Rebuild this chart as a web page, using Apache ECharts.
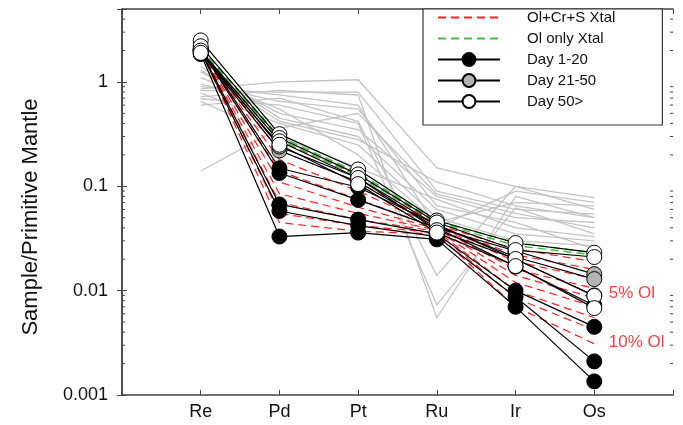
<!DOCTYPE html>
<html>
<head>
<meta charset="utf-8">
<script src="https://cdn.jsdelivr.net/npm/echarts@6/dist/echarts.min.js"></script>
<style>
  html, body { margin: 0; padding: 0; background: #fff; }
  #chart { width: 683px; height: 425px; }
</style>
</head>
<body>
<div id="chart"></div>
<script>
  // element order along the x axis
  const elements = ['Re', 'Pd', 'Pt', 'Ru', 'Ir', 'Os']
  const yTicks = [0.001, 0.01, 0.1, 1]

  // samples, Re..Os normalised to primitive mantle
  const day1to20 = [
    [1.85, 0.033, 0.036, 0.031, 0.0070, 0.00135],
    [1.95, 0.058, 0.042, 0.033, 0.0087, 0.0021],
    [2.00, 0.067, 0.048, 0.035, 0.0100, 0.0045],
    [2.05, 0.134, 0.074, 0.040, 0.0170, 0.0072],
    [2.10, 0.149, 0.098, 0.043, 0.0200, 0.0090]
  ]
  const day21to50 = [
    [1.90, 0.220, 0.110, 0.040, 0.0240, 0.0144],
    [2.00, 0.240, 0.120, 0.042, 0.0210, 0.0129]
  ]
  const day50plus = [
    [2.50, 0.316, 0.145, 0.047, 0.0286, 0.0231],
    [2.20, 0.290, 0.130, 0.045, 0.0245, 0.0210],
    [2.00, 0.270, 0.120, 0.038, 0.0201, 0.0089],
    [1.90, 0.250, 0.105, 0.036, 0.0172, 0.0068]
  ]
  // crystallisation models
  const olCrS = [
    [2.0, 0.27, 0.130, 0.043, 0.025, 0.019],
    [2.0, 0.22, 0.110, 0.042, 0.022, 0.016],
    [2.0, 0.18, 0.090, 0.041, 0.019, 0.013],
    [2.0, 0.14, 0.075, 0.040, 0.016, 0.0105],
    [2.0, 0.11, 0.063, 0.039, 0.014, 0.0085],
    [2.0, 0.085, 0.055, 0.038, 0.012, 0.0070],
    [2.0, 0.070, 0.048, 0.037, 0.010, 0.0055],
    [2.0, 0.055, 0.042, 0.036, 0.0085, 0.0042],
    [2.0, 0.045, 0.037, 0.035, 0.0070, 0.0031]
  ]
  const olOnly = [
    [2.1, 0.30, 0.135, 0.046, 0.029, 0.023],
    [2.1, 0.28, 0.125, 0.045, 0.027, 0.022]
  ]
  // literature samples (grey)
  const others = [
    [1.40, 0.45, 0.30, 0.060, 0.035, 0.030],
    [1.25, 0.50, 0.35, 0.080, 0.050, 0.045],
    [0.86, 1.00, 1.05, 0.150, 0.100, 0.078],
    [0.83, 0.80, 0.80, 0.090, 0.060, 0.054],
    [0.72, 0.83, 0.75, 0.0055, 0.080, 0.050],
    [0.69, 0.60, 0.40, 0.0073, 0.062, 0.035],
    [0.60, 0.70, 0.42, 0.0140, 0.100, 0.060],
    [0.14, 0.36, 0.50, 0.084, 0.055, 0.040],
    [0.95, 0.65, 0.55, 0.065, 0.045, 0.025],
    [0.78, 0.40, 0.25, 0.050, 0.030, 0.027],
    [1.10, 0.55, 0.20, 0.045, 0.070, 0.065],
    [0.65, 0.30, 0.15, 0.075, 0.040, 0.033],
    [0.90, 0.75, 0.60, 0.040, 0.090, 0.070],
    [1.30, 0.42, 0.28, 0.110, 0.065, 0.050]
  ]
  const notes = ['5% Ol', '10% Ol']
  const noteValues = [0.0095, 0.0032]

  const toPts = row => row.map((v, i) => [i + 1, v])

  // log minor ticks 2..9 x 10^k
  const minorTicks = []
  for (let k = -3; k <= 0; k++) {
    for (let m = 2; m <= 9; m++) {
      const v = m * Math.pow(10, k)
      if (v < 5) minorTicks.push(v)
    }
  }

  const series = []
  others.forEach(r => series.push({
    name: 'lit', type: 'line', data: toPts(r), symbol: 'none', silent: true, z: 1,
    lineStyle: { color: '#c4c4c4', width: 1.3 }
  }))
  olCrS.forEach(r => series.push({
    name: 'Ol+Cr+S Xtal', type: 'line', data: toPts(r), symbol: 'none', z: 2,
    lineStyle: { color: '#ff2020', width: 1.2, type: [8, 5] }, itemStyle: { color: '#ff2020' }
  }))
  olOnly.forEach(r => series.push({
    name: 'Ol only Xtal', type: 'line', data: toPts(r), symbol: 'none', z: 2,
    lineStyle: { color: '#3cc03c', width: 1.4, type: [8, 5] }, itemStyle: { color: '#3cc03c' }
  }))
  const groups = [
    ['Day 1-20', day1to20, '#000000'],
    ['Day 21-50', day21to50, '#b4b4b4'],
    ['Day 50>', day50plus, '#ffffff']
  ]
  groups.forEach(g => {
    g[1].forEach(r => series.push({
      name: g[0], type: 'line', data: toPts(r), symbol: 'circle', symbolSize: 15, z: 3,
      lineStyle: { color: '#000', width: 1.2 },
      itemStyle: { color: g[2], borderColor: '#000', borderWidth: 1 }
    }))
  })
  series.push({
    name: 'notes', type: 'scatter', symbolSize: 1, z: 4, silent: true,
    itemStyle: { color: 'rgba(0,0,0,0)' },
    data: notes.map((t, i) => ({ value: [6, noteValues[i]], label: { formatter: t } })),
    label: { show: true, position: 'right', distance: 14, color: '#ee1111', fontSize: 17, fontFamily: 'Liberation Sans' }
  })
  series.push({
    name: 'minor', type: 'custom', silent: true, z: 5,
    data: minorTicks.map(v => [0, v]),
    renderItem(params, api) {
      const l = api.coord([0, api.value(1)])
      const r = api.coord([7, api.value(1)])
      const st = { stroke: '#444', lineWidth: 1 }
      return {
        type: 'group', children: [
          { type: 'line', shape: { x1: l[0], y1: l[1], x2: l[0] + 3, y2: l[1] }, style: st },
          { type: 'line', shape: { x1: r[0] - 3, y1: r[1], x2: r[0], y2: r[1] }, style: st }
        ]
      }
    }
  })

  const isMajor = v => yTicks.some(t => Math.abs(v - t) / t < 1e-6)
  const frame = { show: true, lineStyle: { color: '#444', width: 1.5 } }
  const xBase = {
    type: 'value', min: 0, max: 7, interval: 1, splitLine: { show: false },
    axisLine: frame, axisTick: { inside: true, length: 5, lineStyle: { color: '#444' } }
  }
  const yBase = {
    type: 'log', logBase: 10, min: 0.001, max: 5, splitLine: { show: false },
    axisLine: frame, axisTick: { inside: true, length: 5, lineStyle: { color: '#444' } }
  }
  const noMark = { color: 'rgba(0,0,0,0)', borderWidth: 0 }

  const option = {
    animation: false,
    backgroundColor: '#fff',
    textStyle: { fontFamily: 'Liberation Sans' },
    grid: { left: 122, right: 10, top: 9, bottom: 30 },
    legend: {
      data: [
        { name: 'Ol+Cr+S Xtal', itemStyle: noMark },
        { name: 'Ol only Xtal', itemStyle: noMark },
        'Day 1-20', 'Day 21-50', 'Day 50>'
      ],
      orient: 'vertical', left: 423, top: 9,
      itemWidth: 62, itemHeight: 16, itemGap: 6,
      padding: [1, 47, 16, 14],
      backgroundColor: '#fff', borderColor: '#333', borderWidth: 1.2, borderRadius: 0,
      selectedMode: false,
      textStyle: { fontSize: 15, color: '#111', padding: [0, 0, 0, 22] }
    },
    xAxis: [
      Object.assign({}, xBase, {
        position: 'bottom',
        axisLabel: { fontSize: 18, color: '#111', margin: 8, formatter: v => elements[v - 1] || '' }
      }),
      Object.assign({}, xBase, { position: 'top', axisLabel: { show: false } })
    ],
    yAxis: [
      Object.assign({}, yBase, {
        position: 'left',
        name: 'Sample/Primitive Mantle', nameLocation: 'middle', nameGap: 80,
        nameTextStyle: { fontSize: 22, color: '#111', padding: [0, 30, 0, 0] },
        axisLabel: { fontSize: 18, color: '#111', margin: 14,
          formatter: v => isMajor(v) ? String(+v.toPrecision(3)) : '' }
      }),
      Object.assign({}, yBase, { position: 'right', axisLabel: { show: false } })
    ],
    series: series
  }

  const chart = echarts.init(document.getElementById('chart'))
  chart.setOption(option)
</script>
</body>
</html>
